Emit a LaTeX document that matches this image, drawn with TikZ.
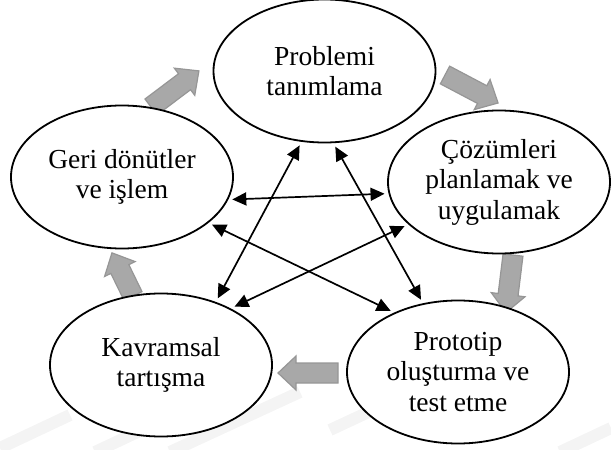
\documentclass[tikz,border=0pt]{standalone}
\usepackage{fontspec}
\setmainfont{Liberation Serif}
\usetikzlibrary{arrows.meta,shapes.geometric}

\definecolor{blockfill}{RGB}{168,168,168}
\definecolor{blockedge}{RGB}{150,150,150}
\definecolor{bandgray}{RGB}{244,244,244}

\tikzset{
  stage/.style={ellipse, draw=black, line width=1.8pt, fill=white,
    minimum width=222pt, minimum height=143pt, inner sep=0pt,
    align=center, font=\fontsize{27.5}{30.5}\selectfont},
  link/.style={line width=1.7pt,
    {Triangle[length=14pt,width=13pt]}-{Triangle[length=14pt,width=13pt]},
    shorten <=4pt, shorten >=4pt},
  blockarrow/.style={fill=blockfill, draw=blockedge, line width=1.2pt, line join=miter},
  band/.style={draw=bandgray, line width=12pt}
}

% wide grey arrow: tail point, direction (degrees), total length
\newcommand\grayarrow[3]{%
  \begin{scope}[shift={#1}, rotate=#2]
    \draw[blockarrow] (0,-10) -- ({#3-18},-10) -- ({#3-18},-17) -- (#3,0)
      -- ({#3-18},17) -- ({#3-18},10) -- (0,10) -- cycle;
  \end{scope}}

\begin{document}
\begin{tikzpicture}[x=1pt, y=-1pt]
\useasboundingbox (0,0) rectangle (611,450);

% faint diagonal bands near the bottom edge
\draw[band] (0,448) -- (70,415);
\draw[band] (95,452) -- (265,372);
\draw[band] (170,452) -- (300,392);
\draw[band] (330,430) -- (420,388);
\draw[band] (560,452) -- (611,428);

% cycle arrows between the stages
\grayarrow{(151,107)}{37}{60}
\grayarrow{(445,75)}{-27.8}{60}
\grayarrow{(513,255)}{-97}{58}
\grayarrow{(338,373)}{180}{60}
\grayarrow{(133,296)}{116}{48}

% stages
\node[stage] (top)   at (324.5,71) {Problemi\\tanımlama};
\node[stage] (right) at (499,182)  {Çözümleri\\planlamak ve\\uygulamak};
\node[stage] (left)  at (122,177)  {Geri dönütler\\ve işlem};
\node[stage] (kav)   at (161,365)  {Kavramsal\\tartışma};
\node[stage] (proto) at (458,372)  {Prototip\\oluşturma ve\\test etme};

% two-way links
\draw[link] (left.-12.5) -- (right.186.7);
\draw[link] (top.-108.3) -- (kav.49.3);
\draw[link] (top.-83.6)  -- (proto.117.2);
\draw[link] (left.-28.7) -- (proto.137.1);
\draw[link] (right.205.6) -- (kav.39);
\end{tikzpicture}
\end{document}
